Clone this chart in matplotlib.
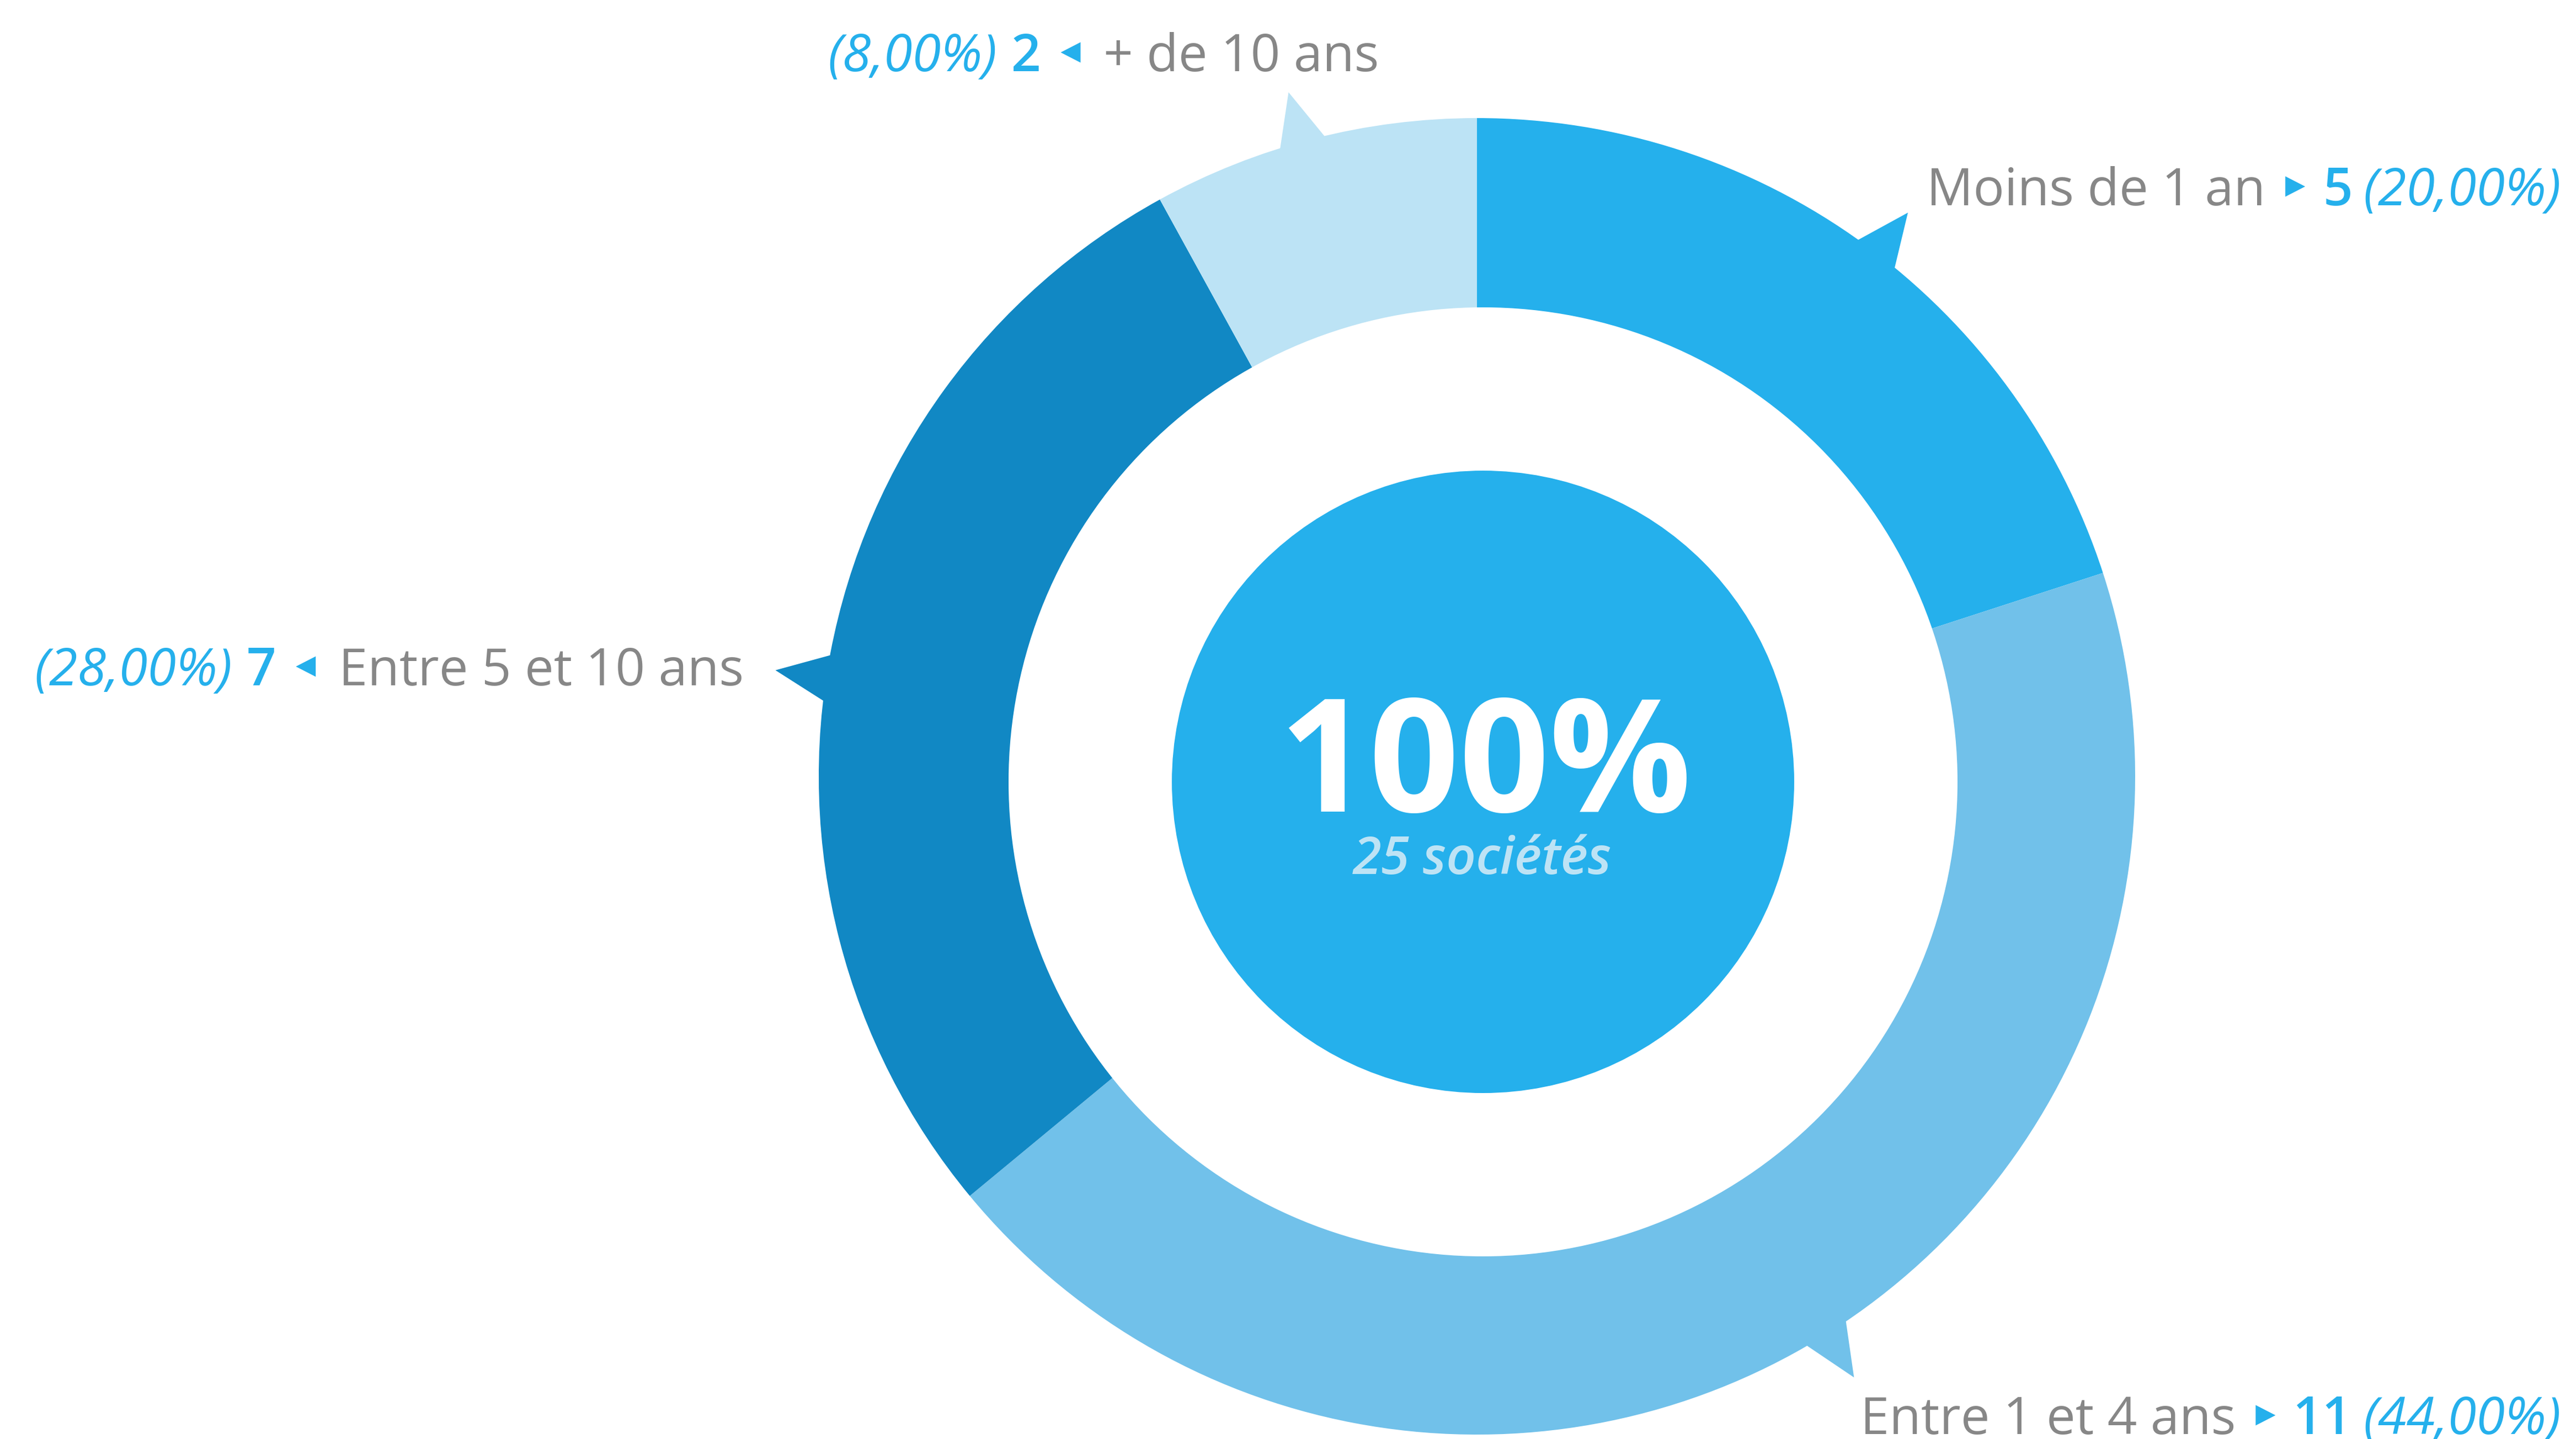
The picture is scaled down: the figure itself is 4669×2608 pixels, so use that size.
import numpy as np
import matplotlib.pyplot as plt
from matplotlib.patches import Circle, Polygon

# data
categories = ["Moins de 1 an", "Entre 1 et 4 ans", "Entre 5 et 10 ans", "+ de 10 ans"]
counts = [5, 11, 7, 2]
colors = ["#25B0EC", "#71C1EA", "#1188C4", "#BCE3F5"]
total = sum(counts)
center_title = "100%"
center_sub = f"{total} sociétés"

GRAY = "#878787"
BLUE = "#25B0EC"
FONT = "Open Sans"

W, H = 4669, 2608
fig = plt.figure(figsize=(W / 100, H / 100), dpi=100)
ax = fig.add_axes([0, 0, 1, 1])

# ring (outer pie, then hole + center disc)
cx, cy = 2677, H - 1407
r_out = 1193
ax.pie(counts, colors=colors, startangle=90, counterclock=False,
       radius=r_out, center=(cx, cy), wedgeprops=dict(linewidth=0))
hx, hy = 2688, H - 1417
ax.add_patch(Circle((hx, hy), 860, color="white", lw=0, zorder=3))
ax.add_patch(Circle((hx, hy), 564, color=BLUE, lw=0, zorder=4))

ax.set_xlim(0, W)
ax.set_ylim(0, H)
ax.set_aspect("equal")
ax.axis("off")

# pointers sticking out of each segment
nudge = [1.4, -3.3, -2.2, -1.0]
cum = np.cumsum([0] + counts)
for i in range(len(counts)):
    mid = (cum[i] + cum[i + 1]) / 2 / total * 360 + nudge[i]
    pts = []
    for a, r in [(mid - 2.35, r_out - 15), (mid, r_out + 93), (mid + 2.35, r_out - 15)]:
        t = np.radians(90 - a)
        pts.append((cx + r * np.cos(t), cy + r * np.sin(t)))
    ax.add_patch(Polygon(pts, closed=True, color=colors[i], lw=0, zorder=2))

# center text
ax.text(2692, H - 1471, center_title, color="white", fontsize=286 * 0.72,
        fontweight="bold", family=FONT, ha="center", va="baseline", zorder=5)
ax.text(2687, H - 1584, center_sub, color="#BDE3F5", fontsize=94 * 0.72,
        fontweight="semibold", fontstyle="italic", family=FONT,
        ha="center", va="baseline", zorder=5)

renderer = fig.canvas.get_renderer()
FS = 94 * 0.72


def pct(c):
    return f"({c / total * 100:.2f}%)".replace(".", ",")


def draw_label(x, y, pieces):
    y = H - y
    for p in pieces:
        if p[0] == "gap":
            x += p[1]
        elif p[0] == "tri":
            w, h = 36, 37
            yc = y + 34
            if p[1] == "right":
                pts = [(x, yc - h / 2), (x, yc + h / 2), (x + w, yc)]
            else:
                pts = [(x + w, yc - h / 2), (x + w, yc + h / 2), (x, yc)]
            ax.add_patch(Polygon(pts, closed=True, color=BLUE, lw=0))
            x += w
        else:
            _, s, col, wt, st = p
            t = ax.text(x, y, s, color=col, fontsize=FS, fontweight=wt,
                        fontstyle=st, family=FONT, ha="left", va="baseline")
            x += t.get_window_extent(renderer).width


def right_label(i, x, y):
    draw_label(x, y, [
        ("t", categories[i], GRAY, "normal", "normal"), ("gap", 36),
        ("tri", "right"), ("gap", 32),
        ("t", str(counts[i]), BLUE, "semibold", "normal"), ("gap", 20),
        ("t", pct(counts[i]), BLUE, "normal", "italic"),
    ])


def left_label(i, x, y):
    draw_label(x, y, [
        ("t", pct(counts[i]), BLUE, "normal", "italic"), ("gap", 26),
        ("t", str(counts[i]), BLUE, "semibold", "normal"), ("gap", 36),
        ("tri", "left"), ("gap", 42),
        ("t", categories[i], GRAY, "normal", "normal"),
    ])


right_label(0, 3492, 372)
right_label(1, 3372, 2599)
left_label(2, 62, 1242)
left_label(3, 1500, 129)

fig.savefig("out.png", dpi=100)
